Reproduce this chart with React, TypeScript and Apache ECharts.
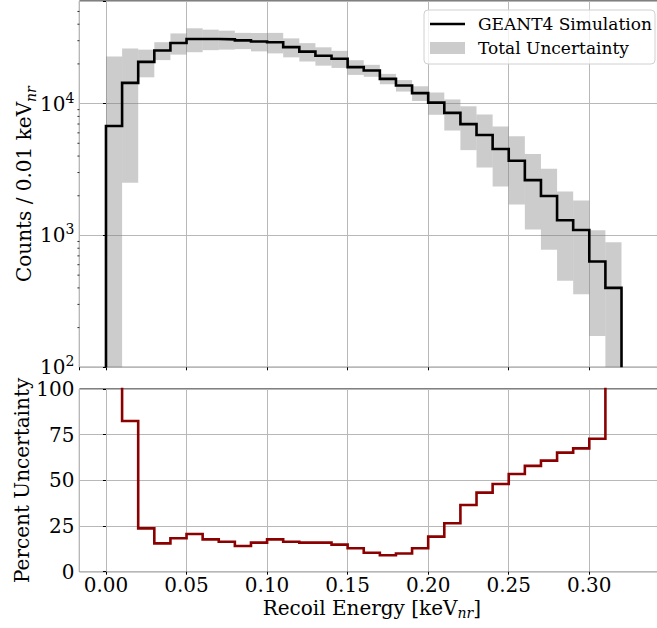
import React, { useEffect, useRef } from "react";
import * as echarts from "echarts";

// ---- data ----
const binLeft = [
  0.0, 0.01, 0.02, 0.03, 0.04, 0.05, 0.06, 0.07, 0.08, 0.09, 0.1, 0.11, 0.12, 0.13, 0.14, 0.15,
  0.16, 0.17, 0.18, 0.19, 0.2, 0.21, 0.22, 0.23, 0.24, 0.25, 0.26, 0.27, 0.28, 0.29, 0.3, 0.31,
];
const BIN_W = 0.01;
const counts = [
  6770, 14370, 20740, 25300, 28790, 30900, 30900, 30700, 30140, 29600, 29200, 26830, 24800, 23060,
  21880, 18920, 17820, 15410, 13710, 12000, 10180, 8500, 6990, 5780, 4530, 3690, 2630, 1990, 1305,
  1100, 634, 400,
];
const percentUnc = [
  236, 82.5, 23.7, 15.5, 18.3, 20.6, 17.7, 16.4, 14.1, 15.9, 17.7, 16.4, 15.9, 15.9, 14.8, 12.8,
  10.4, 9.0, 10.0, 12.8, 19.2, 26.5, 36.5, 43.3, 48.0, 53.5, 57.9, 60.8, 65.2, 67.5, 72.8, 122,
];
const minorTickValues = [
  200, 300, 400, 500, 600, 700, 800, 900, 2000, 3000, 4000, 5000, 6000, 7000, 8000, 9000, 20000,
  30000, 40000, 50000,
];
const pctTicks = [0, 25, 50, 75, 100];

const X_MIN = -0.0165;
const X_MAX = 0.3465;
const Y_MIN = 100;
const Y_MAX = 60000;
const FONT = "DejaVu Serif";
const BAND_FILL = "rgba(128,128,128,0.4)";
const GRID_COLOR = "#b8b8b8";

export default function App() {
  const ref = useRef<HTMLDivElement>(null);

  useEffect(() => {
    if (!ref.current) return;
    const chart = echarts.init(ref.current, undefined, { renderer: "svg" });

    const histPts: number[][] = [[binLeft[0], Y_MIN]];
    counts.forEach((c, i) => {
      histPts.push([binLeft[i], c]);
      histPts.push([binLeft[i] + BIN_W, c]);
    });
    histPts.push([binLeft[binLeft.length - 1] + BIN_W, Y_MIN]);

    const pctPts: number[][] = [];
    percentUnc.forEach((p, i) => {
      pctPts.push([binLeft[i], p]);
      pctPts.push([binLeft[i] + BIN_W, p]);
    });

    const bandData = counts.map((c, i) => [
      binLeft[i],
      binLeft[i] + BIN_W,
      Math.max(Y_MIN, c * (1 - percentUnc[i] / 100)),
      c * (1 + percentUnc[i] / 100),
    ]);

    const xLabelFmt = (v: number) => {
      const k = v / 0.05;
      if (Math.abs(k - Math.round(k)) > 1e-6) return "";
      return "{t|" + v.toFixed(2) + "}";
    };

    const tStyle = { fontSize: 20, fontFamily: FONT, color: "#000", lineHeight: 26 };
    const subStyle = { fontSize: 14, fontStyle: "italic", fontFamily: FONT, color: "#000", lineHeight: 16, verticalAlign: "bottom" };
    const supStyle = { fontSize: 14, fontFamily: FONT, color: "#000", lineHeight: 16, verticalAlign: "top" };

    const baseX = {
      type: "value",
      min: X_MIN,
      max: X_MAX,
      splitNumber: 7,
      axisLine: { show: false },
      axisTick: { show: true, length: 3, lineStyle: { color: "#000", width: 1 } },
      splitLine: { show: true, lineStyle: { color: GRID_COLOR, width: 1 } },
    };

    const option: any = {
      animation: false,
      textStyle: { fontFamily: FONT },
      grid: [
        { left: 79.4, top: 1, width: 584.8, height: 366.3, show: true, borderColor: "#000", borderWidth: 1, backgroundColor: "transparent", containLabel: false, outerBoundsMode: "none" },
        { left: 79.4, top: 389, width: 584.8, height: 182.7, show: true, borderColor: "#000", borderWidth: 1, backgroundColor: "transparent", containLabel: false, outerBoundsMode: "none" },
      ],
      xAxis: [
        { ...baseX, gridIndex: 0, axisLabel: { show: false } },
        {
          ...baseX,
          gridIndex: 1,
          axisLabel: {
            show: true,
            formatter: xLabelFmt,
            fontSize: 20,
            color: "#000",
            fontFamily: FONT,
            margin: 3,
            lineHeight: 20,
            showMinLabel: false,
            showMaxLabel: false,
            rich: { t: { ...tStyle, lineHeight: 20 } },
          },
          name: "{t|Recoil Energy [keV}{sub|nr}{t|]}",
          nameLocation: "middle",
          nameGap: 24,
          nameMoveOverlap: false,
          nameTextStyle: {
            fontSize: 20,
            color: "#000",
            fontFamily: FONT,
            verticalAlign: "top",
            lineHeight: 24,
            rich: { t: { ...tStyle, lineHeight: 24 }, sub: { ...subStyle, lineHeight: 14 } },
          },
        },
      ],
      yAxis: [
        {
          type: "log",
          logBase: 10,
          gridIndex: 0,
          min: Y_MIN,
          max: Y_MAX,
          axisLine: { show: false },
          axisTick: { show: true, length: 3, lineStyle: { color: "#000", width: 1 } },
          splitLine: { show: true, lineStyle: { color: GRID_COLOR, width: 1 } },
          axisLabel: {
            show: true,
            margin: 5,
            color: "#000",
            fontSize: 20,
            fontFamily: FONT,
            formatter: (v: number) => {
              const l = Math.log10(v);
              const e = Math.round(l);
              if (Math.abs(l - e) > 1e-6) return "";
              return "{t|10}{s|" + e + "}";
            },
            rich: { t: tStyle, s: supStyle },
          },
          name: "{t|Counts / 0.01 keV}{sub|nr}",
          nameLocation: "middle",
          nameGap: 41,
          nameMoveOverlap: false,
          nameTextStyle: {
            fontSize: 20,
            color: "#000",
            fontFamily: FONT,
            lineHeight: 28,
            rich: { t: { ...tStyle, lineHeight: 28 }, sub: subStyle },
          },
        },
        {
          type: "value",
          gridIndex: 1,
          min: 0,
          max: 100,
          interval: 25,
          axisLine: { show: false },
          axisTick: { show: true, length: 3, lineStyle: { color: "#000", width: 1 } },
          splitLine: { show: true, lineStyle: { color: GRID_COLOR, width: 1 } },
          axisLabel: {
            show: true,
            margin: 5,
            color: "#000",
            fontSize: 20,
            fontFamily: FONT,
            formatter: (v: number) => (pctTicks.includes(v) ? "{t|" + v + "}" : ""),
            rich: { t: tStyle },
          },
          name: "{t|Percent Uncertainty}",
          nameLocation: "middle",
          nameGap: 44,
          nameMoveOverlap: false,
          nameTextStyle: { fontSize: 20, color: "#000", fontFamily: FONT, rich: { t: tStyle } },
        },
      ],
      series: [
        {
          type: "custom",
          xAxisIndex: 0,
          yAxisIndex: 0,
          silent: true,
          z: 1,
          encode: { x: [0, 1], y: [2, 3] },
          data: bandData,
          renderItem: (params: any, api: any) => {
            const p0 = api.coord([api.value(0), api.value(3)]);
            const p1 = api.coord([api.value(1), api.value(2)]);
            return {
              type: "rect",
              shape: { x: p0[0], y: p0[1], width: p1[0] - p0[0], height: p1[1] - p0[1] },
              style: { fill: BAND_FILL },
            };
          },
        },
        {
          type: "line",
          xAxisIndex: 0,
          yAxisIndex: 0,
          silent: true,
          z: 3,
          symbol: "none",
          clip: true,
          data: histPts,
          lineStyle: { color: "#000", width: 2.6, join: "miter", cap: "butt" },
        },
        {
          type: "custom",
          xAxisIndex: 0,
          yAxisIndex: 0,
          silent: true,
          clip: false,
          z: 4,
          encode: { x: 0, y: 1 },
          data: minorTickValues.map((v) => [X_MIN, v]),
          renderItem: (params: any, api: any) => {
            const p = api.coord([api.value(0), api.value(1)]);
            return {
              type: "line",
              shape: { x1: p[0] - 2, y1: p[1], x2: p[0], y2: p[1] },
              style: { stroke: "#000", lineWidth: 0.8 },
            };
          },
        },
        {
          type: "line",
          xAxisIndex: 1,
          yAxisIndex: 1,
          silent: true,
          z: 3,
          symbol: "none",
          clip: true,
          data: pctPts,
          lineStyle: { color: "#8b0000", width: 2.6, join: "miter", cap: "butt" },
        },
      ],
      graphic: [
        {
          type: "rect",
          z: 100,
          shape: { x: 424, y: 10, width: 231, height: 54, r: 4 },
          style: { fill: "rgba(255,255,255,0.8)", stroke: "#d0d0d0", lineWidth: 1 },
        },
        {
          type: "line",
          z: 101,
          shape: { x1: 430, y1: 24, x2: 465, y2: 24 },
          style: { stroke: "#000", lineWidth: 2.6 },
        },
        {
          type: "rect",
          z: 101,
          shape: { x: 430, y: 42, width: 35, height: 12 },
          style: { fill: BAND_FILL },
        },
        {
          type: "text",
          z: 101,
          x: 478,
          y: 24,
          style: { text: "GEANT4 Simulation", fontSize: 17, fontFamily: FONT, fill: "#000", verticalAlign: "middle", align: "left" },
        },
        {
          type: "text",
          z: 101,
          x: 478,
          y: 48,
          style: { text: "Total Uncertainty", fontSize: 17, fontFamily: FONT, fill: "#000", verticalAlign: "middle", align: "left" },
        },
      ],
    };

    chart.setOption(option);
    return () => chart.dispose();
  }, []);

  return (
    <div
      ref={ref}
      style={{ position: "absolute", left: 0, top: 0, width: 657, height: 628, background: "#fff" }}
    />
  );
}
